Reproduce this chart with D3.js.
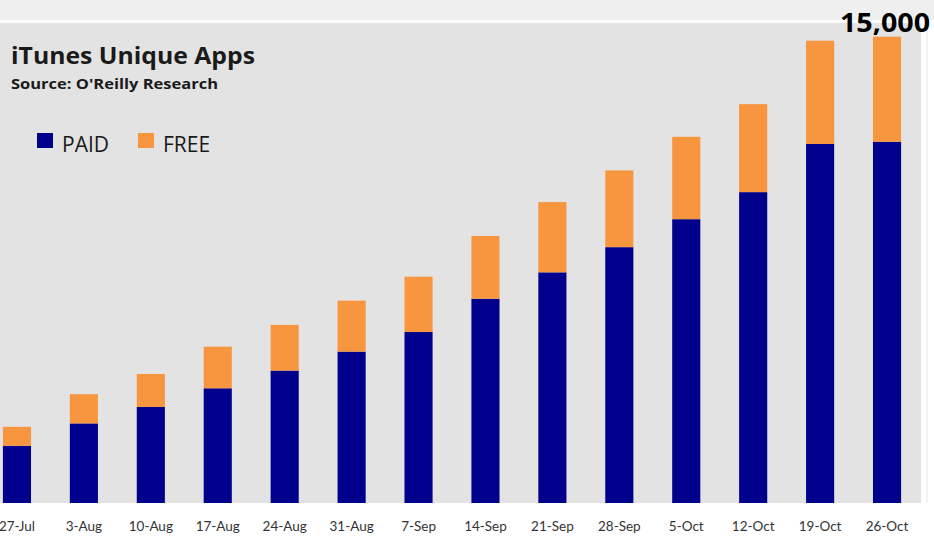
<!DOCTYPE html>
<html>
<head>
<meta charset="utf-8">
<script src="https://cdn.jsdelivr.net/npm/d3@7"></script>
<style>
  html, body { margin: 0; padding: 0; background: #ffffff; }
  svg { display: block; }
</style>
</head>
<body>
<svg id="chart" width="934" height="538"></svg>
<script>
// ---- data ----
const categories = ["27-Jul", "3-Aug", "10-Aug", "17-Aug", "24-Aug", "31-Aug", "7-Sep",
                    "14-Sep", "21-Sep", "28-Sep", "5-Oct", "12-Oct", "19-Oct", "26-Oct"];
const paidValues = [1840, 2560, 3090, 3690, 4260, 4870, 5500, 6570, 7420, 8230, 9130, 10000, 11550, 11620];
const freeValues = [610, 940, 1060, 1340, 1470, 1640, 1780, 2020, 2260, 2470, 2650, 2830, 3320, 3380];
const seriesNames = ["PAID", "FREE"];
const seriesColors = ["#00008c", "#f8953f"];
const maxLabel = "15,000";

// ---- layout ----
const svg = d3.select("#chart");
const W = 934, H = 538;
const plot = { left: 0, right: 921, top: 23, bottom: 503 };

// backgrounds
svg.append("rect").attr("x", 0).attr("y", 0).attr("width", W).attr("height", 20).attr("fill", "#efefef");
svg.append("rect").attr("x", 0).attr("y", 20).attr("width", W).attr("height", 3).attr("fill", "#ffffff");
svg.append("rect").attr("x", plot.left).attr("y", plot.top)
   .attr("width", plot.right - plot.left).attr("height", plot.bottom - plot.top)
   .attr("fill", "#e3e3e3");
svg.append("rect").attr("x", 926).attr("y", 23).attr("width", 2).attr("height", 480).attr("fill", "#f4f4f4");

const rows = categories.map((c, i) => ({ cat: c, PAID: paidValues[i], FREE: freeValues[i] }));
const stacked = d3.stack().keys(seriesNames)(rows);

const x = d3.scaleBand()
  .domain(categories)
  .range([-16.5, 920.5])
  .paddingInner(0.58)
  .paddingOuter(0.29);

const y = d3.scaleLinear()
  .domain([0, 15000])
  .range([plot.bottom, 36.7]);

const color = d3.scaleOrdinal().domain(seriesNames).range(seriesColors);

svg.append("g").selectAll("g")
  .data(stacked)
  .join("g")
  .attr("fill", d => color(d.key))
  .selectAll("rect")
  .data(d => d)
  .join("rect")
  .attr("x", d => x(d.data.cat))
  .attr("y", d => y(d[1]))
  .attr("width", x.bandwidth())
  .attr("height", d => y(d[0]) - y(d[1]));

// x axis labels
const xAxis = d3.axisBottom(x).tickSize(0).tickPadding(0);
const gx = svg.append("g").attr("transform", `translate(0,${plot.bottom})`).call(xAxis);
gx.select(".domain").remove();
gx.selectAll("text")
  .attr("dy", 0)
  .attr("y", 28)
  .attr("font-family", "Lato, 'Open Sans', sans-serif")
  .attr("font-size", 13.5)
  .attr("fill", "#333333");

// title
svg.append("text").attr("x", 11).attr("y", 64)
  .attr("font-family", "'Open Sans', sans-serif").attr("font-weight", 700)
  .attr("font-size", 23.5).attr("fill", "#1a1a1a")
  .attr("textLength", 244).attr("lengthAdjust", "spacingAndGlyphs")
  .text("iTunes Unique Apps");
svg.append("text").attr("x", 11).attr("y", 89)
  .attr("font-family", "'Open Sans', sans-serif").attr("font-weight", 700)
  .attr("font-size", 14.5).attr("fill", "#1a1a1a")
  .attr("textLength", 207).attr("lengthAdjust", "spacingAndGlyphs")
  .text("Source: O'Reilly Research");

// legend
const legendX = [37, 138];
const legend = svg.append("g").selectAll("g").data(seriesNames).join("g")
  .attr("transform", (d, i) => `translate(${legendX[i]},133)`);
legend.append("rect").attr("width", 16).attr("height", 15).attr("fill", d => color(d));
legend.append("text").attr("x", 25).attr("y", 19)
  .attr("font-family", "'Open Sans', sans-serif").attr("font-size", 21)
  .attr("fill", "#1a1a1a")
  .text(d => d);

// top value label
svg.append("text").attr("x", 930).attr("y", 32).attr("text-anchor", "end")
  .attr("font-family", "'Open Sans', sans-serif").attr("font-weight", 700)
  .attr("font-size", 27).attr("fill", "#000000")
  .attr("textLength", 90).attr("lengthAdjust", "spacingAndGlyphs")
  .text(maxLabel);
</script>
</body>
</html>
